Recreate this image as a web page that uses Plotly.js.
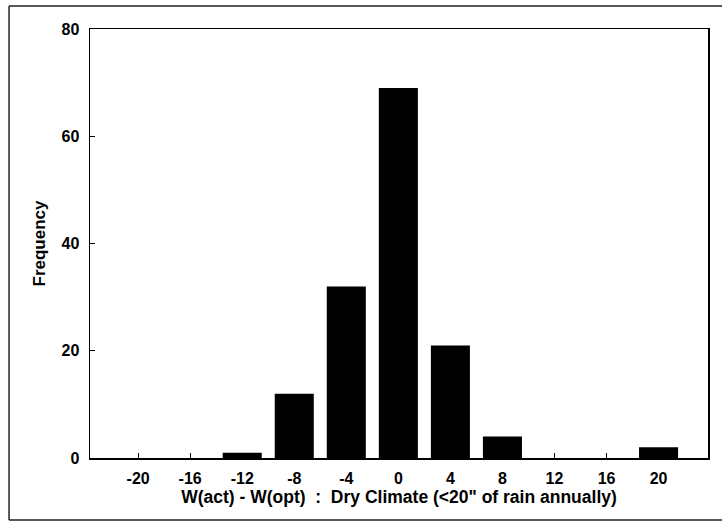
<!DOCTYPE html>
<html>
<head>
<meta charset="utf-8">
<script src="https://cdn.plot.ly/plotly-3.0.1.min.js"></script>
<style>html,body{margin:0;padding:0;background:#fff;overflow:hidden;}#chart{width:722px;height:527px;}</style>
</head>
<body>
<div id="chart"></div>
<script>
const binCenters = [-20, -16, -12, -8, -4, 0, 4, 8, 12, 16, 20];
const frequency = [0, 0, 1, 12, 32, 69, 21, 4, 0, 0, 2];
const xTickLabels = ['-20', '-16', '-12', '-8', '-4', '0', '4', '8', '12', '16', '20'];
const yTickVals = [0, 20, 40, 60, 80];

const fam = 'Liberation Sans, Arial, sans-serif';

const trace = {
  type: 'bar',
  x: binCenters,
  y: frequency,
  width: 3,
  marker: {color: '#000', line: {width: 0}},
  hoverinfo: 'x+y'
};

const frameLine = {color: '#222', width: 1.5};
const fx0 = -0.131, fx1 = 1.3, fy0 = -0.1445, fy1 = 1.0536;

const layout = {
  width: 722, height: 527,
  margin: {l: 90, r: 14, t: 29, b: 69},
  paper_bgcolor: '#fff', plot_bgcolor: '#fff',
  showlegend: false,
  font: {family: fam, size: 16, color: '#000'},
  xaxis: {
    range: [-23.7, 23.8],
    tickvals: binCenters,
    ticktext: xTickLabels,
    ticks: 'inside', ticklen: 5, tickwidth: 1, tickcolor: '#000',
    ticklabelstandoff: 5,
    showgrid: false, zeroline: false,
    showline: true, mirror: true, linecolor: '#000', linewidth: 1.5,
    tickfont: {family: fam, size: 16, color: '#000', weight: 'bold'},
    title: {text: 'W(act) - W(opt)  :  Dry Climate (<20" of rain annually)', standoff: 0,
            font: {family: fam, size: 17.5, color: '#000', weight: 'bold'}}
  },
  yaxis: {
    range: [0, 80],
    tickvals: yTickVals,
    ticks: 'inside', ticklen: 5, tickwidth: 1, tickcolor: '#000',
    ticklabelstandoff: 6,
    showgrid: false, zeroline: false,
    showline: true, mirror: true, linecolor: '#000', linewidth: 1.5,
    tickfont: {family: fam, size: 16, color: '#000', weight: 'bold'},
    title: {text: 'Frequency', standoff: 11,
            font: {family: fam, size: 17, color: '#000', weight: 'bold'}}
  },
  shapes: [
    {type: 'line', xref: 'paper', yref: 'paper', x0: fx0, x1: fx1, y0: fy1, y1: fy1, line: frameLine},
    {type: 'line', xref: 'paper', yref: 'paper', x0: fx0, x1: fx0, y0: fy0, y1: fy1, line: frameLine},
    {type: 'line', xref: 'paper', yref: 'paper', x0: fx0, x1: fx1, y0: fy0, y1: fy0, line: frameLine}
  ]
};

Plotly.newPlot('chart', [trace], layout, {displayModeBar: false, staticPlot: true});
</script>
</body>
</html>
